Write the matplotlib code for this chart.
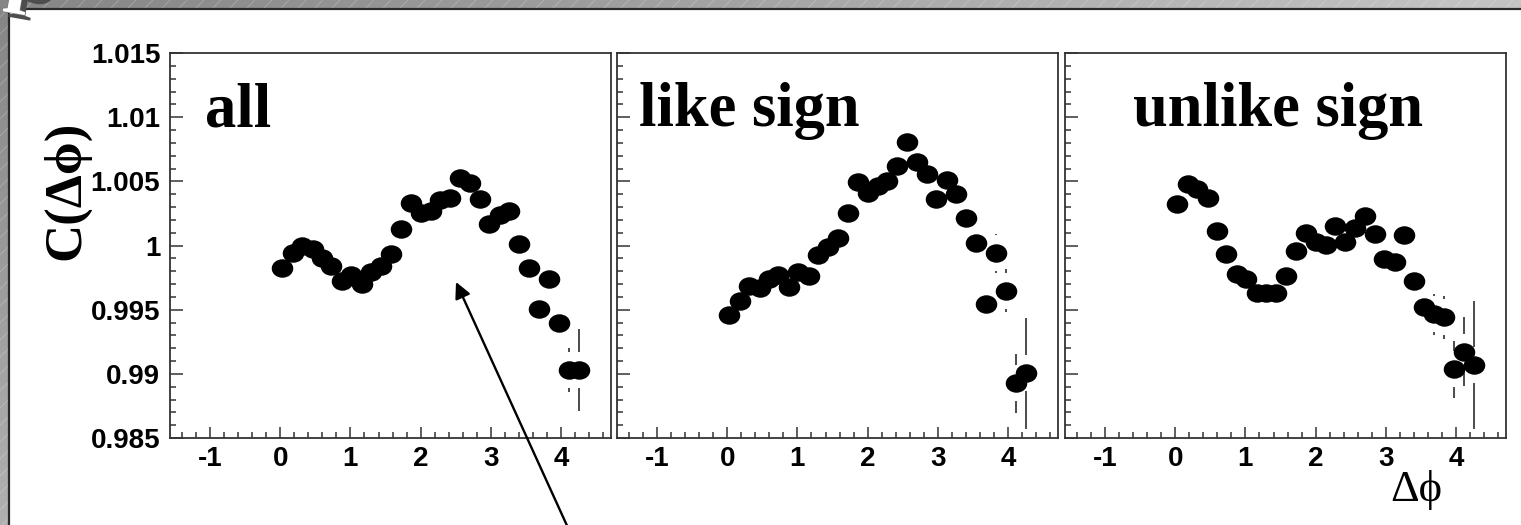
import numpy as np
import matplotlib
matplotlib.use("Agg")
import matplotlib.pyplot as plt
from matplotlib.path import Path
from matplotlib.patches import Rectangle
from matplotlib.ticker import MultipleLocator, FuncFormatter
from matplotlib.collections import LineCollection
import matplotlib.patheffects as pe

# ---- data: correlation function C(dphi) per bin ----
dphi = [0.03, 0.175, 0.315, 0.463, 0.592, 0.729, 0.875, 1.009, 1.161, 1.296,
        1.433, 1.579, 1.721, 1.856, 1.999, 2.145, 2.282, 2.423, 2.562, 2.705,
        2.839, 2.981, 3.128, 3.266, 3.407, 3.547, 3.688, 3.829, 3.974, 4.110,
        4.256]

c_all = [0.99822, 0.99939, 0.99996, 0.99970, 0.99900, 0.99843, 0.99723, 0.99770,
         0.99700, 0.99791, 0.99840, 0.99931, 1.00129, 1.00333, 1.00251, 1.00271,
         1.00355, 1.00372, 1.00524, 1.00485, 1.00360, 1.00168, 1.00238, 1.00271,
         1.00009, 0.99822, 0.99505, 0.99737, 0.99394, 0.99030, 0.99030]
err_all = [0.0004, 0.0004, 0.0004, 0.0004, 0.0004, 0.0004, 0.0004, 0.0004,
           0.0004, 0.0004, 0.0004, 0.0004, 0.0004, 0.0004, 0.0004, 0.0004,
           0.0005, 0.0005, 0.0005, 0.0005, 0.0005, 0.0005, 0.0006, 0.0006,
           0.0007, 0.0008, 0.0009, 0.0010, 0.0012, 0.0017, 0.0032]

c_like = [0.99458, 0.99568, 0.99687, 0.99671, 0.99736, 0.99770, 0.99679, 0.99796,
          0.99762, 0.99926, 0.99991, 1.00056, 1.00251, 1.00497, 1.00407, 1.00464,
          1.00505, 1.00622, 1.00804, 1.00653, 1.00557, 1.00362, 1.00510, 1.00399,
          1.00212, 1.00022, 0.99544, 0.99939, 0.99648, 0.98926, 0.99004]
err_like = [0.0006, 0.0006, 0.0006, 0.0006, 0.0006, 0.0006, 0.0006, 0.0006,
            0.0006, 0.0006, 0.0006, 0.0006, 0.0006, 0.0006, 0.0006, 0.0006,
            0.0007, 0.0007, 0.0007, 0.0007, 0.0007, 0.0008, 0.0008, 0.0009,
            0.0010, 0.0011, 0.0012, 0.0015, 0.0017, 0.0023, 0.0043]

c_unlike = [1.00323, 1.00477, 1.00438, 1.00372, 1.00113, 0.99934, 0.99778, 0.99739,
            0.99628, 0.99628, 0.99632, 0.99765, 0.99959, 1.00095, 1.00030, 1.00004,
            1.00154, 1.00030, 1.00139, 1.00232, 1.00090, 0.99895, 0.99874, 1.00082,
            0.99723, 0.99523, 0.99464, 0.99440, 0.99035, 0.99172, 0.99069]
err_unlike = [0.0006, 0.0006, 0.0006, 0.0006, 0.0006, 0.0006, 0.0006, 0.0006,
              0.0006, 0.0006, 0.0006, 0.0006, 0.0006, 0.0006, 0.0006, 0.0006,
              0.0007, 0.0007, 0.0007, 0.0007, 0.0007, 0.0008, 0.0008, 0.0009,
              0.0010, 0.0012, 0.0016, 0.0017, 0.0022, 0.0027, 0.0050]

panel_titles = ["all", "like sign", "unlike sign"]
series = [(c_all, err_all), (c_like, err_like), (c_unlike, err_unlike)]

W, H = 1521, 525
fig = plt.figure(figsize=(W / 100, H / 100), dpi=100)

# ---- slide background: shaded border band with diagonal hatching ----
bg = fig.add_axes([0, 0, 1, 1])
bg.set_xlim(0, W)
bg.set_ylim(H, 0)
bg.axis("off")
xx, yy = np.meshgrid(np.arange(W), np.arange(H))
shade = 0.52 + 0.25 * xx / W + 0.17 * yy / H
bg.imshow(shade, cmap="gray", vmin=0, vmax=1, extent=(0, W, H, 0),
          aspect="auto", interpolation="bilinear")
hatch = [[(x0, H), (x0 + H, 0)] for x0 in np.arange(-H, W + 20, 17)]
bg.add_collection(LineCollection(hatch, colors="white", linewidths=0.6, alpha=0.25))
bg.add_patch(Rectangle((8.5, 8.8), W + 50, H + 50, facecolor="white",
                       edgecolor="#2a2a2a", linewidth=1.6, zorder=3))
bg.text(32, 1, "p", fontsize=62, family="Liberation Serif", weight="bold",
        color="white", rotation=-10, ha="center", va="baseline", zorder=4,
        path_effects=[pe.withSimplePatchShadow(offset=(4, -4), shadow_rgbFace="#4d4d4d", alpha=1),
                      pe.withStroke(linewidth=1, foreground="#777777")])

# ---- ellipse marker (slightly wider than tall) ----
circ = Path.unit_circle()
ell = Path(circ.vertices * np.array([1.18, 1.0]), circ.codes)

axis_col = "#333333"
tick_font = dict(family="Liberation Sans", weight="bold", size=20)

lefts_px = [170, 617, 1065]
title_x = [0.08, 0.05, 0.155]
ax_w_px = 441
top_px, bot_px = 53, 438
gap = 0.0014

for i, (ttl, (vals, errs)) in enumerate(zip(panel_titles, series)):
    ax = fig.add_axes([lefts_px[i] / W, 1 - bot_px / H, ax_w_px / W, (bot_px - top_px) / H])
    ax.set_facecolor("none")
    ax.set_xlim(-np.pi / 2, 3 * np.pi / 2)
    ax.set_ylim(0.985, 1.015)

    x = np.array(dphi)
    y = np.array(vals)
    e = np.array(errs)
    show = e > gap
    ax.vlines(x[show], y[show] + gap, y[show] + e[show], color="#1a1a1a", lw=1.1, zorder=2)
    ax.vlines(x[show], y[show] - e[show], y[show] - gap, color="#1a1a1a", lw=1.1, zorder=2)
    ax.plot(x, y, linestyle="none", marker=ell, markersize=14.5,
            color="black", zorder=3)

    ax.text(title_x[i], 0.81, ttl, transform=ax.transAxes,
            family="Liberation Serif", weight="bold", fontsize=45,
            ha="left", va="baseline")

    ax.xaxis.set_major_locator(MultipleLocator(1))
    ax.xaxis.set_minor_locator(MultipleLocator(0.2))
    ax.yaxis.set_major_locator(MultipleLocator(0.005))
    ax.yaxis.set_minor_locator(MultipleLocator(0.001))
    ax.xaxis.set_major_formatter(FuncFormatter(lambda v, p: "%g" % round(v, 6)))
    ax.yaxis.set_major_formatter(FuncFormatter(lambda v, p: "%g" % round(v, 6)))

    ax.tick_params(axis="both", which="both", direction="in", top=False, right=False,
                   color=axis_col, width=1.1)
    ax.tick_params(axis="y", which="major", length=9.5, pad=7)
    ax.tick_params(axis="y", which="minor", length=4.5)
    ax.tick_params(axis="x", which="major", length=8, pad=6)
    ax.tick_params(axis="x", which="minor", length=4)
    for lab in ax.get_xticklabels() + ax.get_yticklabels():
        lab.set_fontfamily(tick_font["family"])
        lab.set_fontweight(tick_font["weight"])
        lab.set_fontsize(tick_font["size"])
    if i > 0:
        ax.tick_params(axis="y", labelleft=False)
    for s in ax.spines.values():
        s.set_color(axis_col)
        s.set_linewidth(1.3)

# axis titles
fig.text(66 / W, 1 - 190 / H, "C(Δϕ)", rotation=90, ha="center", va="center",
         family=["Liberation Serif", "DejaVu Serif"], weight="bold", fontsize=38)
fig.text(1416 / W, 1 - 490 / H, "Δϕ", ha="center", va="center",
         family=["Liberation Serif", "DejaVu Serif"], fontsize=32)

# ---- pointer arrow on top of everything ----
ov = fig.add_axes([0, 0, 1, 1])
ov.set_xlim(0, W)
ov.set_ylim(H, 0)
ov.axis("off")
ov.annotate("", xy=(456, 282), xytext=(569, 530),
            arrowprops=dict(arrowstyle="-|>", color="black", lw=1.7,
                            mutation_scale=24, shrinkA=0, shrinkB=0))

fig.savefig("out.png", dpi=100)
